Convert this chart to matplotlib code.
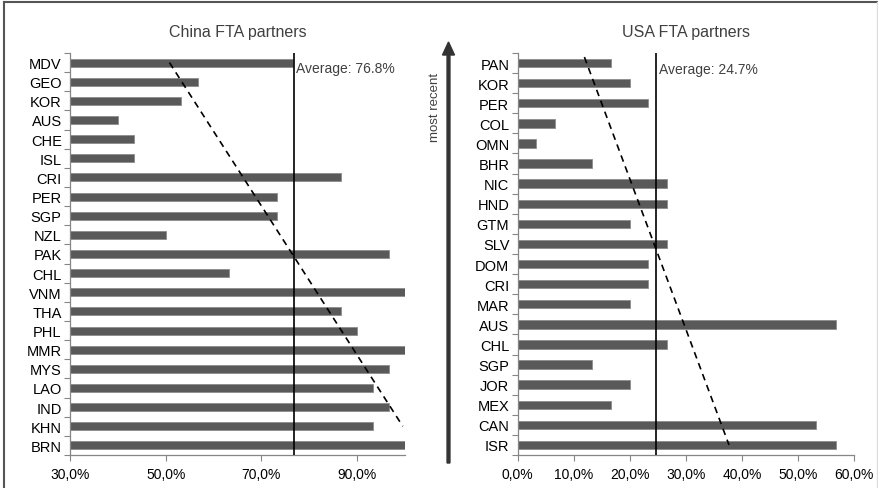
import matplotlib
matplotlib.use("Agg")
import matplotlib.pyplot as plt
from matplotlib.ticker import FixedLocator, FuncFormatter
from matplotlib.lines import Line2D

plt.rcParams["font.family"] = ["Liberation Sans", "DejaVu Sans"]

# data, top row first (most recent at the top)
china_partners = ["MDV", "GEO", "KOR", "AUS", "CHE", "ISL", "CRI", "PER", "SGP", "NZL", "PAK",
                  "CHL", "VNM", "THA", "PHL", "MMR", "MYS", "LAO", "IND", "KHN", "BRN"]
china_share = [76.7, 56.7, 53.3, 40.0, 43.3, 43.3, 86.7, 73.3, 73.3, 50.0, 96.7,
               63.3, 100.0, 86.7, 90.0, 100.0, 96.7, 93.3, 96.7, 93.3, 100.0]
china_avg = 76.8
china_trend_x = [50.8, 99.6]
china_trend_rows = [0, 19]  # row positions (from top) of the trend line ends

usa_partners = ["PAN", "KOR", "PER", "COL", "OMN", "BHR", "NIC", "HND", "GTM", "SLV",
                "DOM", "CRI", "MAR", "AUS", "CHL", "SGP", "JOR", "MEX", "CAN", "ISR"]
usa_share = [16.7, 20.0, 23.3, 6.7, 3.3, 13.3, 26.7, 26.7, 20.0, 26.7,
             23.3, 23.3, 20.0, 56.7, 26.7, 13.3, 20.0, 16.7, 53.3, 56.7]
usa_avg = 24.7
usa_trend_x = [11.9, 37.7]
usa_trend_rows = [-0.3, 19]

W, H = 879, 489
fig = plt.figure(figsize=(W / 100, H / 100), dpi=100)

BAR = "#595959"
SPINE = "#868686"
TXT = "#404040"


def pct(v, pos):
    return f"{v:.1f}%".replace(".", ",")


def panel(rect, labels, values, avg, xlim, xticks, title, tx, trows):
    ax = fig.add_axes([rect[0] / W, 1 - rect[3] / H, (rect[2] - rect[0]) / W, (rect[3] - rect[1]) / H])
    n = len(labels)
    ys = [n - 1 - i for i in range(n)]
    ax.barh(ys, values, height=0.42, left=0, color=BAR, edgecolor="#8c8c8c", linewidth=0.6, zorder=2)
    ax.set_xlim(*xlim)
    ax.set_ylim(-0.5, n - 0.5)
    ax.set_yticks(ys)
    ax.set_yticklabels(labels, fontsize=10.5)
    ax.yaxis.set_minor_locator(FixedLocator([k - 0.5 for k in range(n + 1)]))
    ax.tick_params(axis="y", which="major", length=0, pad=6, colors="black")
    ax.tick_params(axis="y", which="minor", length=4, color=SPINE, width=0.8)
    ax.xaxis.set_major_locator(FixedLocator(xticks))
    ax.xaxis.set_major_formatter(FuncFormatter(pct))
    ax.tick_params(axis="x", length=4, color=SPINE, width=0.8, labelsize=10, pad=5)
    for s in ["top", "right"]:
        ax.spines[s].set_visible(False)
    for s in ["left", "bottom"]:
        ax.spines[s].set_color(SPINE)
        ax.spines[s].set_linewidth(0.9)
    ax.axvline(avg, color="black", lw=1.2, zorder=3)
    ax.text(avg + (xlim[1] - xlim[0]) * 0.008, n - 1.3, f"Average: {avg}%", fontsize=10,
            color=TXT, va="center", ha="left")
    y0 = n - 1 - trows[0]
    y1 = n - 1 - trows[1]
    ax.plot(tx, [y0, y1], color="black", lw=1.2, ls=(0, (4, 3)), zorder=4)
    ax.set_title(title, fontsize=11.5, color=TXT, pad=12)
    return ax


panel((70, 54, 404.7, 456), china_partners, china_share, china_avg, (30, 100),
      [30, 50, 70, 90], "China FTA partners", china_trend_x, china_trend_rows)
panel((517.7, 54, 854, 456), usa_partners, usa_share, usa_avg, (0, 60),
      [0, 10, 20, 30, 40, 50, 60], "USA FTA partners", usa_trend_x, usa_trend_rows)

# "most recent" arrow
fig.patches.append(matplotlib.patches.FancyArrow(
    448.5 / W, 1 - 464 / H, 0, (464 - 43) / H, width=1.6 / H, head_width=12 / W,
    head_length=13 / H, length_includes_head=True, color="#333333",
    transform=fig.transFigure, figure=fig))
fig.text(435 / W, 1 - 107 / H, "most recent", rotation=90, fontsize=9.5, color=TXT,
         ha="center", va="center")

# frame
fig.add_artist(Line2D([4 / W, 877 / W], [1 - 2.5 / H, 1 - 2.5 / H], color="#555555", lw=1.5,
                      transform=fig.transFigure))
fig.add_artist(Line2D([4 / W, 4 / W], [0, 1 - 2.5 / H], color="#555555", lw=1.5,
                      transform=fig.transFigure))
fig.add_artist(Line2D([877 / W, 877 / W], [0, 1 - 2.5 / H], color="#dddddd", lw=1,
                      transform=fig.transFigure))

fig.savefig("out.png", dpi=100)
